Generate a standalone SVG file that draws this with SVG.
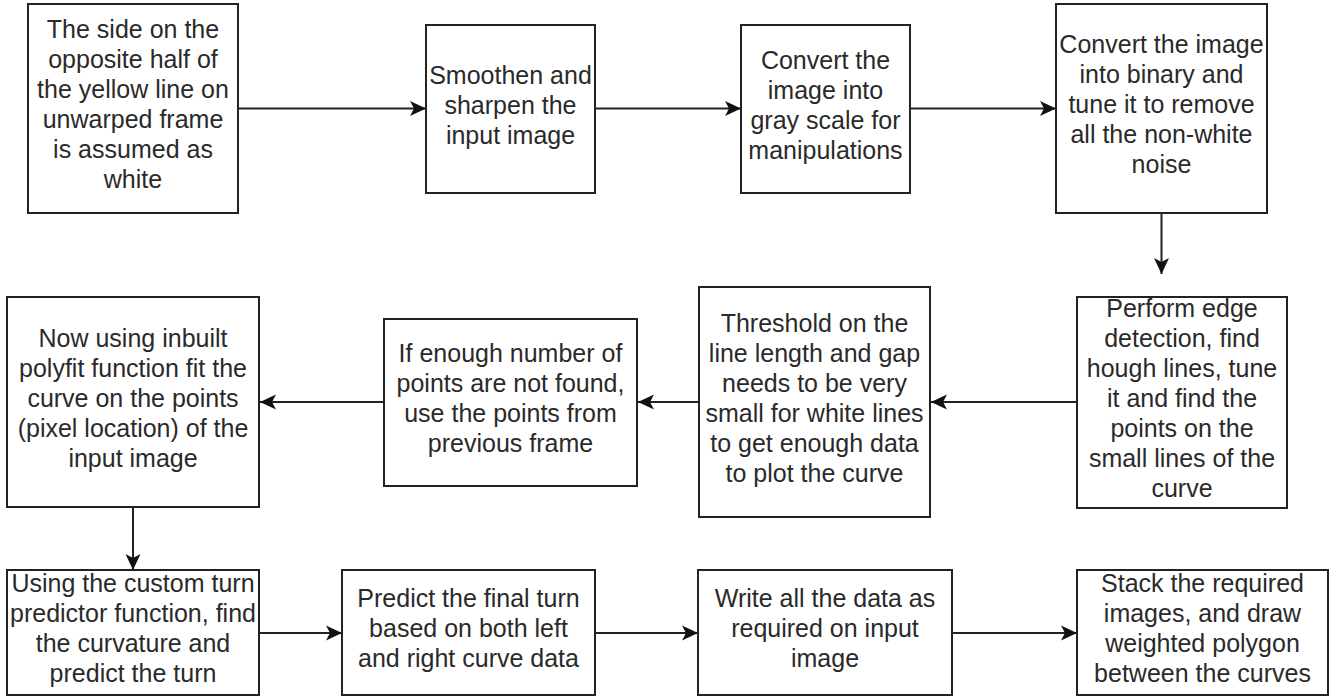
<svg xmlns="http://www.w3.org/2000/svg" width="1335" height="698" viewBox="0 0 1335 698">
<style>
.box{fill:#fff;stroke:#222;stroke-width:2}
.lbl{font-family:"Liberation Sans",Arial,Helvetica,sans-serif;font-size:25px;fill:#2a2a2a;text-anchor:middle}
.edge{fill:none;stroke:#222;stroke-width:2}
</style>
<defs>
<marker id="arr" viewBox="0 0 16 16" refX="16" refY="8" markerWidth="16" markerHeight="16" markerUnits="userSpaceOnUse" orient="auto">
<path d="M0,0.5 L16,8 L0,15.5 L4,8 Z" fill="#111"/>
</marker>
</defs>
<rect width="1335" height="698" fill="#fff"/>
<g id="connectors">
<line class="edge" x1="238" y1="108.5" x2="426" y2="108.5" marker-end="url(#arr)"/>
<line class="edge" x1="595" y1="108.5" x2="741" y2="108.5" marker-end="url(#arr)"/>
<line class="edge" x1="910" y1="108.5" x2="1056" y2="108.5" marker-end="url(#arr)"/>
<line class="edge" x1="1161.5" y1="213" x2="1161.5" y2="274" marker-end="url(#arr)"/>
<line class="edge" x1="1077" y1="402" x2="931" y2="402" marker-end="url(#arr)"/>
<line class="edge" x1="699" y1="402" x2="638" y2="402" marker-end="url(#arr)"/>
<line class="edge" x1="384" y1="402" x2="260" y2="402" marker-end="url(#arr)"/>
<line class="edge" x1="133" y1="507" x2="133" y2="570" marker-end="url(#arr)"/>
<line class="edge" x1="259" y1="633" x2="342" y2="633" marker-end="url(#arr)"/>
<line class="edge" x1="595" y1="633" x2="698" y2="633" marker-end="url(#arr)"/>
<line class="edge" x1="952" y1="633" x2="1077" y2="633" marker-end="url(#arr)"/>
</g>
<g id="n1">
<rect class="box" x="28" y="4" width="210" height="209"/>
<text class="lbl"><tspan x="133" y="38">The side on the</tspan><tspan x="133" y="68">opposite half of</tspan><tspan x="133" y="98">the yellow line on</tspan><tspan x="133" y="128">unwarped frame</tspan><tspan x="133" y="158">is assumed as</tspan><tspan x="133" y="188">white</tspan></text>
</g>
<g id="n2">
<rect class="box" x="426" y="25" width="169" height="168"/>
<text class="lbl"><tspan x="510.5" y="83.5">Smoothen and</tspan><tspan x="510.5" y="113.5">sharpen the</tspan><tspan x="510.5" y="143.5">input image</tspan></text>
</g>
<g id="n3">
<rect class="box" x="741" y="25" width="169" height="168"/>
<text class="lbl"><tspan x="825.5" y="68.5">Convert the</tspan><tspan x="825.5" y="98.5">image into</tspan><tspan x="825.5" y="128.5">gray scale for</tspan><tspan x="825.5" y="158.5">manipulations</tspan></text>
</g>
<g id="n4">
<rect class="box" x="1056" y="4" width="211" height="209"/>
<text class="lbl"><tspan x="1161.5" y="53">Convert the image</tspan><tspan x="1161.5" y="83">into binary and</tspan><tspan x="1161.5" y="113">tune it to remove</tspan><tspan x="1161.5" y="143">all the non-white</tspan><tspan x="1161.5" y="173">noise</tspan></text>
</g>
<g id="n5">
<rect class="box" x="1077" y="297" width="210" height="211"/>
<text class="lbl"><tspan x="1182" y="317">Perform edge</tspan><tspan x="1182" y="347">detection, find</tspan><tspan x="1182" y="377">hough lines, tune</tspan><tspan x="1182" y="407">it and find the</tspan><tspan x="1182" y="437">points on the</tspan><tspan x="1182" y="467">small lines of the</tspan><tspan x="1182" y="497">curve</tspan></text>
</g>
<g id="n6">
<rect class="box" x="699" y="287" width="231" height="230"/>
<text class="lbl"><tspan x="814.5" y="331.5">Threshold on the</tspan><tspan x="814.5" y="361.5">line length and gap</tspan><tspan x="814.5" y="391.5">needs to be very</tspan><tspan x="814.5" y="421.5">small for white lines</tspan><tspan x="814.5" y="451.5">to get enough data</tspan><tspan x="814.5" y="481.5">to plot the curve</tspan></text>
</g>
<g id="n7">
<rect class="box" x="384" y="319" width="253" height="167"/>
<text class="lbl"><tspan x="510.5" y="362">If enough number of</tspan><tspan x="510.5" y="392">points are not found,</tspan><tspan x="510.5" y="422">use the points from</tspan><tspan x="510.5" y="452">previous frame</tspan></text>
</g>
<g id="n8">
<rect class="box" x="7" y="297" width="252" height="210"/>
<text class="lbl"><tspan x="133" y="346.5">Now using inbuilt</tspan><tspan x="133" y="376.5">polyfit function fit the</tspan><tspan x="133" y="406.5">curve on the points</tspan><tspan x="133" y="436.5">(pixel location) of the</tspan><tspan x="133" y="466.5">input image</tspan></text>
</g>
<g id="n9">
<rect class="box" x="7" y="570" width="252" height="125"/>
<text class="lbl"><tspan x="133" y="592">Using the custom turn</tspan><tspan x="133" y="622">predictor function, find</tspan><tspan x="133" y="652">the curvature and</tspan><tspan x="133" y="682">predict the turn</tspan></text>
</g>
<g id="n10">
<rect class="box" x="342" y="570" width="253" height="125"/>
<text class="lbl"><tspan x="468.5" y="607">Predict the final turn</tspan><tspan x="468.5" y="637">based on both left</tspan><tspan x="468.5" y="667">and right curve data</tspan></text>
</g>
<g id="n11">
<rect class="box" x="698" y="570" width="254" height="125"/>
<text class="lbl"><tspan x="825" y="607">Write all the data as</tspan><tspan x="825" y="637">required on input</tspan><tspan x="825" y="667">image</tspan></text>
</g>
<g id="n12">
<rect class="box" x="1077" y="570" width="251" height="125"/>
<text class="lbl"><tspan x="1202.5" y="592">Stack the required</tspan><tspan x="1202.5" y="622">images, and draw</tspan><tspan x="1202.5" y="652">weighted polygon</tspan><tspan x="1202.5" y="682">between the curves</tspan></text>
</g>
</svg>
